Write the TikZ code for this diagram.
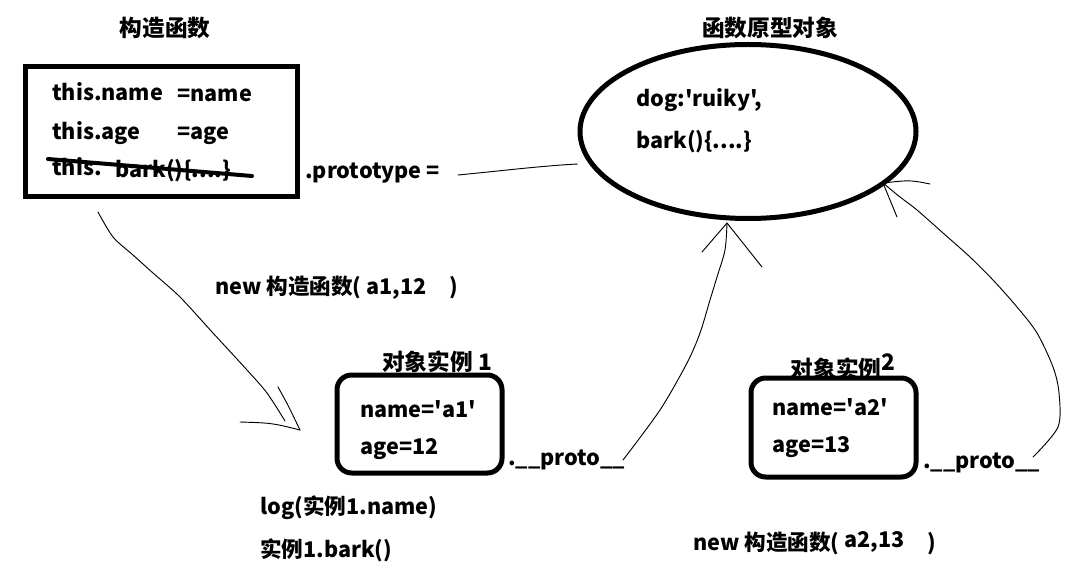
\documentclass[tikz,border=0pt]{standalone}
\usepackage{fontspec}
\newfontfamily\mf{Noto Sans CJK SC}
\usetikzlibrary{shapes.geometric}
\begin{document}
\begin{tikzpicture}[x=0.75pt,y=-0.75pt,
  txt/.style={inner sep=0pt, anchor=west, font=\mf\bfseries\fontsize{16.2}{19}\selectfont},
  ttl/.style={inner sep=0pt, font=\mf\bfseries\fontsize{17}{20}\selectfont},
  frame/.style={draw, line width=3.75pt},
  hand/.style={line width=0.7pt, line cap=round, line join=round}]
\useasboundingbox (0,0) rectangle (1077,577);
% constructor
\node[ttl] (t1) at (165,28) {构造函数};
\node[frame, minimum width=204pt, minimum height=97.5pt, inner sep=0pt] (ctor) at (161,132) {};
\node[txt] (c1) at (52,92) {this.name};
\node[txt] (c2) at (177,95) {=name};
\node[txt] (c3) at (52,133) {this.age};
\node[txt] (c4) at (177,136) {=age};
\node[txt] (c5) at (52,167) {this.};
\node[txt] (c6) at (115,171) {bark()\{....\}};
\coordinate (s1) at (48,159);
\coordinate (s2) at (252,176);
\draw[line width=3pt, line cap=round] (s1) -- (s2);
\node[txt] (pt) at (305,173) {.prototype =};
% prototype
\node[ttl] (t2) at (770,28) {函数原型对象};
\node[frame, ellipse, minimum width=252pt, minimum height=130.5pt, inner sep=0pt] (proto) at (748,131.5) {};
\node[txt] (p1) at (636,100) {dog:'ruiky',};
\node[txt] (p2) at (636,142) {bark()\{....\}};
\coordinate (l1) at (458,175);
\draw[hand] (l1) .. controls (500,171) and (540,166) .. (proto.west |- 0,164);
% new 1
\node[txt] (n1) at (215,288) {new 构造函数( a1,12\hspace{17pt})};
% instance 1
\node[ttl] (t3) at (437,362) {对象实例 1};
\node[frame, rounded corners=11pt, minimum width=123.75pt, minimum height=73.5pt, inner sep=0pt] (i1) at (419.5,424) {};
\node[txt] (i1a) at (360,409) {name='a1'};
\node[txt] (i1b) at (360,449) {age=12};
\node[txt] (pr1) at (508,460) {.\_\_proto\_\_};
% instance 2
\node[ttl] (t4) at (843,367) {对象实例\raisebox{5pt}{2}};
\node[frame, rounded corners=11pt, minimum width=123.75pt, minimum height=74.25pt, inner sep=0pt] (i2) at (833.5,427.5) {};
\node[txt] (i2a) at (772,407) {name='a2'};
\node[txt] (i2b) at (772,447) {age=13};
\node[txt] (pr2) at (923,463) {.\_\_proto\_\_};
% bottom texts
\node[txt] (lg) at (260,508) {log(实例1.name)};
\node[txt] (bk) at (260,550) {实例1.bark()};
\node[txt] (n2) at (693,543) {new 构造函数( \raisebox{2pt}{a2,13}\hspace{17pt})};
% arrow constructor -> instance 1
\coordinate (a1s) at (98,212);
\coordinate (a1e) at (300,430);
\draw[hand] plot[smooth, tension=0.5] coordinates {(a1s) (113,237) (133,255) (153,273) (180,297) (213,333) (247,370) (267,393) (285,421)};
\draw[hand] (278,387) .. controls (288,405) .. (a1e);
\draw[hand] (240,422) .. controls (272,423) .. (a1e);
% arrow proto1 -> prototype
\coordinate (a2s) at (623,460);
\coordinate (a2e) at (727,223);
\draw[hand] plot[smooth, tension=0.5] coordinates {(a2s) (660,410) (687,363) (700,333) (710,300) (717,277) (725,250) (a2e)};
\draw[hand] (702,252) -- (a2e) -- (762,267);
% arrow proto2 -> prototype
\coordinate (a3s) at (1033,457);
\coordinate (a3e) at (883,183);
\draw[hand] plot[smooth, tension=0.5] coordinates {(a3s) (1058,427) (1059,393) (1053,367) (1037,333) (1017,307) (993,280) (970,257) (943,233) (917,210) (900,197) (a3e)};
\draw[hand] (a3e) .. controls (910,180) .. (930,184);
\draw[hand] (a3e) .. controls (890,200) .. (897,217);
\end{tikzpicture}
\end{document}
